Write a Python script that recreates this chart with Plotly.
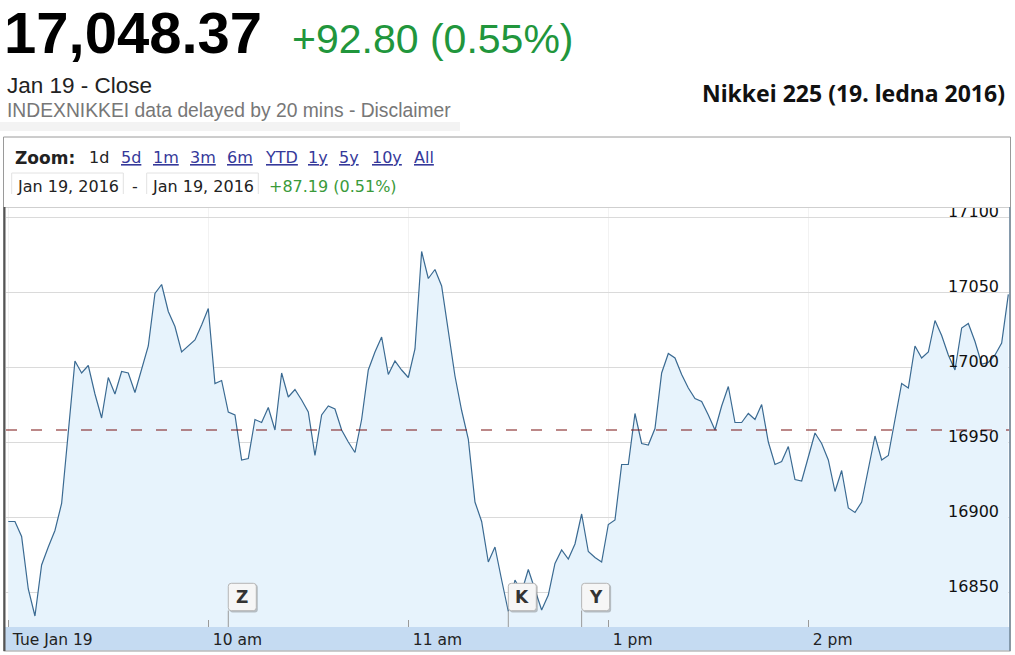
import plotly.graph_objects as go
import pandas as pd

# ---------------- data ----------------
morning_times = pd.date_range("2016-01-19 09:00", "2016-01-19 11:28", freq="2min")
afternoon_times = pd.date_range("2016-01-19 12:30", "2016-01-19 15:00", freq="2min")
times = list(morning_times) + list(afternoon_times)

values = [
    16897, 16897, 16887, 16852, 16834, 16868, 16880, 16891, 16909, 16958,
    17004, 16996, 17001, 16982, 16966, 16993, 16982, 16997, 16996, 16983,
    16998, 17014, 17049, 17055, 17037, 17027, 17010, 17014, 17018, 17028,
    17039, 16989, 16991, 16970, 16968, 16938, 16939, 16965, 16963, 16973,
    16958, 16996, 16980, 16985, 16978, 16970, 16941, 16968, 16974, 16972,
    16958, 16950, 16943, 16965, 16998, 17010, 17020, 16995, 17004, 16998,
    16993, 17012, 17077, 17059, 17065, 17054, 17025, 16994, 16971, 16952,
    16910, 16897, 16870, 16880, 16858, 16837, 16858, 16850, 16865, 16851,
    16838, 16848, 16869, 16878, 16872, 16882, 16902, 16877, 16873, 16870,
    16895, 16898, 16935, 16935, 16969, 16949, 16948, 16959, 16996, 17009,
    17006, 16995, 16986, 16979, 16977, 16968, 16958, 16974, 16987, 16963,
    16963, 16969, 16965, 16975, 16950, 16935, 16937, 16947, 16925, 16924,
    16940, 16956, 16949, 16938, 16917, 16931, 16906, 16903, 16910, 16932,
    16954, 16938, 16941, 16965, 16989, 16986, 17014, 17006, 17010, 17031,
    17021, 17008, 16998, 17026, 17029, 17017, 17002, 17003, 17008, 17016,
    17048.37,
]

prev_close = 16958
y_ticks = [16850, 16900, 16950, 17000, 17050, 17100]
x_tick_times = ["2016-01-19 09:00", "2016-01-19 10:00", "2016-01-19 11:00",
                "2016-01-19 13:00", "2016-01-19 14:00"]
x_tick_labels = ["Tue Jan 19", "10 am", "11 am", "1 pm", "2 pm"]
flag_times = ["2016-01-19 10:06", "2016-01-19 12:30", "2016-01-19 12:52"]
flag_labels = ["Z", "K", "Y"]
zoom_buttons = ["1d", "5d", "1m", "3m", "6m", "YTD", "1y", "5y", "10y", "All"]
zoom_centers = [99, 131, 166, 203, 240, 281, 318, 349, 387, 424]

x_range = ["2016-01-19 08:59:19", "2016-01-19 15:00:30"]

# ---------------- geometry helpers ----------------
W, H = 1015, 655
ML, MR, MT, MB = 6, 5, 196, 28
PW = W - ML - MR
PH = H - MT - MB


def px(x):
    return (x - ML) / PW


def py(y):
    return (H - MB - y) / PH


def rrect(x0, y0, x1, y1, r):
    return (f"M{x0 + r},{y0} L{x1 - r},{y0} Q{x1},{y0} {x1},{y0 + r} "
            f"L{x1},{y1 - r} Q{x1},{y1} {x1 - r},{y1} L{x0 + r},{y1} "
            f"Q{x0},{y1} {x0},{y1 - r} L{x0},{y0 + r} Q{x0},{y0} {x0 + r},{y0} Z")


fig = go.Figure()

fig.add_trace(go.Scatter(
    x=times, y=values, mode="lines",
    line=dict(color="#3a6a92", width=1.2),
    fill="tozeroy", fillcolor="#e7f3fc",
    hoverinfo="skip", showlegend=False,
))

fig.add_trace(go.Scatter(
    x=x_range, y=[prev_close, prev_close], mode="lines",
    line=dict(color="#7a1212", width=1.1, dash="11px,14px"),
    hoverinfo="skip", showlegend=False,
))

shapes = []
shapes.append(dict(type="rect", xref="paper", yref="paper",
                   x0=px(0), x1=px(460), y0=py(131), y1=py(122),
                   fillcolor="#f3f3f3", line=dict(width=0), layer="below"))
shapes.append(dict(type="rect", xref="paper", yref="paper",
                   x0=px(4), x1=px(1010), y0=py(650.5), y1=py(627),
                   fillcolor="#c5dbf2", line=dict(width=0), layer="below"))
shapes.append(dict(type="rect", xref="paper", yref="paper",
                   x0=px(5), x1=px(1009.5), y0=py(207.5), y1=py(194),
                   fillcolor="white", line=dict(width=0), layer="above"))
shapes.append(dict(type="rect", xref="paper", yref="paper",
                   x0=px(3.5), x1=px(1010.5), y0=py(651), y1=py(137),
                   fillcolor="rgba(0,0,0,0)", line=dict(color="#9a9a9a", width=1),
                   layer="above"))
shapes.append(dict(type="line", xref="paper", yref="paper",
                   x0=px(4), x1=px(1010), y0=py(207.5), y1=py(207.5),
                   line=dict(color="#cfcfcf", width=1), layer="above"))
shapes.append(dict(type="line", xref="paper", yref="paper",
                   x0=px(4.5), x1=px(4.5), y0=py(207), y1=py(651),
                   line=dict(color="#555555", width=2), layer="above"))
shapes.append(dict(type="line", xref="paper", yref="paper",
                   x0=px(1009.8), x1=px(1009.8), y0=py(207), y1=py(651),
                   line=dict(color="#7f95a8", width=1.5), layer="above"))
for bx0, bx1 in [(11.7, 123.3), (146.7, 258.3)]:
    shapes.append(dict(type="rect", xref="paper", yref="paper",
                       x0=px(bx0), x1=px(bx1), y0=py(199.3), y1=py(173),
                       fillcolor="white", line=dict(color="#e2e2e2", width=1),
                       layer="below"))

for t in flag_times:
    common = dict(xref="x", yref="paper", xsizemode="pixel", ysizemode="pixel",
                  xanchor=t, yanchor=0, layer="above")
    shapes.append(dict(type="line", x0=0, x1=0, y0=0, y1=16.5,
                       line=dict(color="#9a9a9a", width=1), **common))
    shapes.append(dict(type="path", path=rrect(1.5, 14.5, 29.5, 42.5, 3),
                       fillcolor="rgba(90,90,90,0.35)", line=dict(width=0), **common))
    shapes.append(dict(type="path", path=rrect(0, 16.3, 28, 43.7, 3),
                       fillcolor="#f6f6f6", line=dict(color="#b5b5b5", width=1), **common))

annotations = []


def ann(text, x, y, size, color="#222", family="Liberation Sans", weight="normal",
        xanchor="left"):
    annotations.append(dict(text=text, x=px(x), y=py(y), xref="paper", yref="paper",
                            xanchor=xanchor, yanchor="middle", showarrow=False,
                            font=dict(family=family, size=size, color=color, weight=weight)))


ann("17,048.37", 2, 33, 58, color="#000", weight="bold")
ann("+92.80 (0.55%)", 290, 39, 41, color="#21963c")
ann("Jan 19 - Close", 5, 86, 22.5, color="#222")
ann("INDEXNIKKEI data delayed by 20 mins - Disclaimer", 5, 110, 19.3, color="#777")
ann("Nikkei 225 (19. ledna 2016)", 1007, 93, 23, color="#111", family="Noto Sans",
    weight="bold", xanchor="right")

ann("Zoom:", 13, 158, 17, color="#222", family="DejaVu Sans", weight="bold")
for lab, cx in zip(zoom_buttons, zoom_centers):
    if lab == "1d":
        ann(lab, cx, 157, 16, color="#222", family="DejaVu Sans", xanchor="center")
    else:
        ann(f"<u>{lab}</u>", cx, 157, 16, color="#35399a", family="DejaVu Sans",
            xanchor="center")

ann("Jan 19, 2016", 67.5, 186.5, 16, color="#222", family="DejaVu Sans", xanchor="center")
ann("-", 135, 186.5, 16, color="#222", family="DejaVu Sans", xanchor="center")
ann("Jan 19, 2016", 202.5, 186.5, 16, color="#222", family="DejaVu Sans", xanchor="center")
ann("+87.19 (0.51%)", 333, 186.5, 16, color="#3a9a3a", family="DejaVu Sans",
    xanchor="center")

for t, lab in zip(flag_times, flag_labels):
    annotations.append(dict(text=lab, x=t, xref="x", xshift=14, y=py(597), yref="paper",
                            xanchor="center", yanchor="middle", showarrow=False,
                            font=dict(family="DejaVu Sans", size=17, color="#333",
                                      weight="bold")))

fig.update_layout(
    width=W, height=H,
    margin=dict(l=ML, r=MR, t=MT, b=MB, pad=0),
    paper_bgcolor="white", plot_bgcolor="white",
    showlegend=False,
    shapes=shapes, annotations=annotations,
    xaxis=dict(
        type="date", range=x_range,
        rangebreaks=[dict(values=["2016-01-19 11:30"], dvalue=3600000)],
        tickvals=x_tick_times, ticktext=x_tick_labels,
        ticks="inside", ticklen=7, tickcolor="#9a9a9a", tickwidth=1,
        ticklabelposition="outside right", ticklabelstandoff=1, ticklabelshift=4,
        tickfont=dict(family="DejaVu Sans", size=15.5, color="#222"),
        showgrid=True, gridcolor="#f2f2f2", gridwidth=1,
        showline=False, zeroline=False, fixedrange=True,
    ),
    yaxis=dict(
        range=[16826.667, 17114], side="right",
        tickvals=y_ticks, tickformat="d", ticks="",
        ticklabelposition="inside", ticklabelshift=-6, ticklabelstandoff=8,
        tickfont=dict(family="DejaVu Sans", size=16, color="#111"),
        showgrid=True, gridcolor="#dadada", gridwidth=1,
        showline=False, zeroline=False, fixedrange=True,
    ),
)

fig.write_html("out.html", config={"displayModeBar": False},
               post_script="document.body.style.margin='0';document.body.style.padding='0';")
